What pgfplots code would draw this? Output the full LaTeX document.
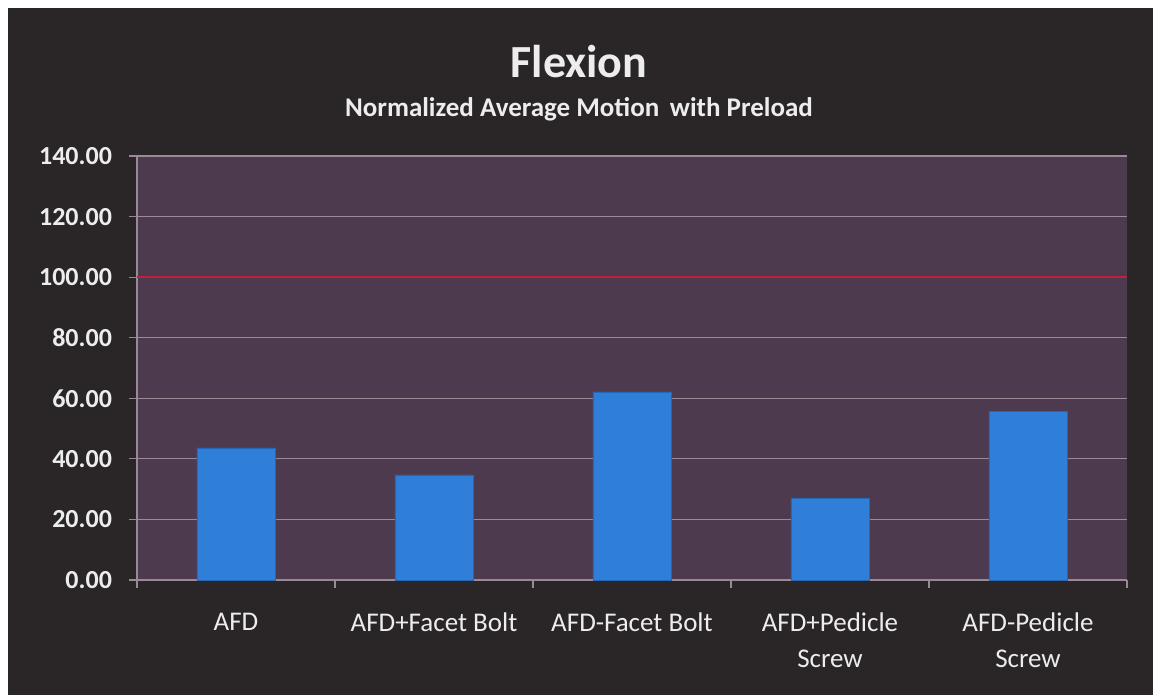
\documentclass[border=0pt]{standalone}
\usepackage{pgfplots}
\pgfplotsset{compat=1.18}
\usepackage{fontspec}
\setmainfont{Carlito}

\definecolor{bgdark}{HTML}{2A2526}
\definecolor{plotbg}{HTML}{4E3A4E}
\definecolor{gridc}{HTML}{9A8A96}
\definecolor{barblue}{HTML}{2F7FD8}
\definecolor{baredge}{HTML}{2466B8}
\definecolor{refred}{HTML}{C0203A}
\definecolor{txt}{HTML}{EDEDED}

\begin{document}
\begin{tikzpicture}
% page: 1157x695 px at 0.5bp per px, axis box at origin
\path[use as bounding box] (-68.5bp,-57.5bp) rectangle (510bp,290bp);
\fill[white] (-68.5bp,-57.5bp) rectangle (510bp,290bp);
\fill[bgdark] (-64.5bp,-57.5bp) rectangle (508bp,286bp);

\begin{axis}[
    at={(0,0)}, anchor=south west,
    scale only axis,
    width=495bp, height=212bp,
    axis background/.style={fill=plotbg},
    ybar, bar width=39bp,
    xmin=-0.5, xmax=4.5,
    ymin=0, ymax=140,
    ytick={0,20,...,140},
    ymajorgrids,
    grid style={gridc, line width=0.6pt},
    axis line style={gridc, line width=0.6pt},
    axis x line*=bottom, axis y line*=left,
    tick align=outside,
    major tick length=4bp,
    tick style={gridc, line width=0.6pt},
    /pgf/number format/assume math mode=true,
    yticklabel style={/pgf/number format/.cd, fixed, fixed zerofill, precision=2, /tikz/.cd,
        font=\fontsize{13bp}{15bp}\selectfont\bfseries, text=txt, xshift=-5bp},
    xtick={-0.5,0.5,...,4.5},
    xticklabels={,,,,,},
    extra x ticks={0,1,2,3,4},
    extra x tick labels={AFD, AFD+Facet Bolt, AFD-Facet Bolt, AFD+Pedicle\\Screw, AFD-Pedicle\\Screw},
    extra x tick style={major tick length=0pt, grid=none},
    xticklabel style={font=\fontsize{13.5bp}{18bp}\selectfont, text=txt, align=center, yshift=-13bp},
    clip=false,
]
\addplot[fill=barblue, draw=baredge] coordinates {
    (0, 43.6)
    (1, 34.7)
    (2, 62.1)
    (3, 26.8)
    (4, 55.8)
};
\addplot[refred, line width=0.8pt, sharp plot, forget plot] coordinates {(-0.5,100) (4.5,100)};
\end{axis}

\node[text=txt, font=\fontsize{23bp}{26bp}\selectfont\bfseries] at (221bp,259bp) {Flexion};
\node[text=txt, font=\fontsize{13.5bp}{15bp}\selectfont\bfseries] at (221bp,235.5bp) {Normalized Average Motion\, with Preload};
\end{tikzpicture}
\end{document}
